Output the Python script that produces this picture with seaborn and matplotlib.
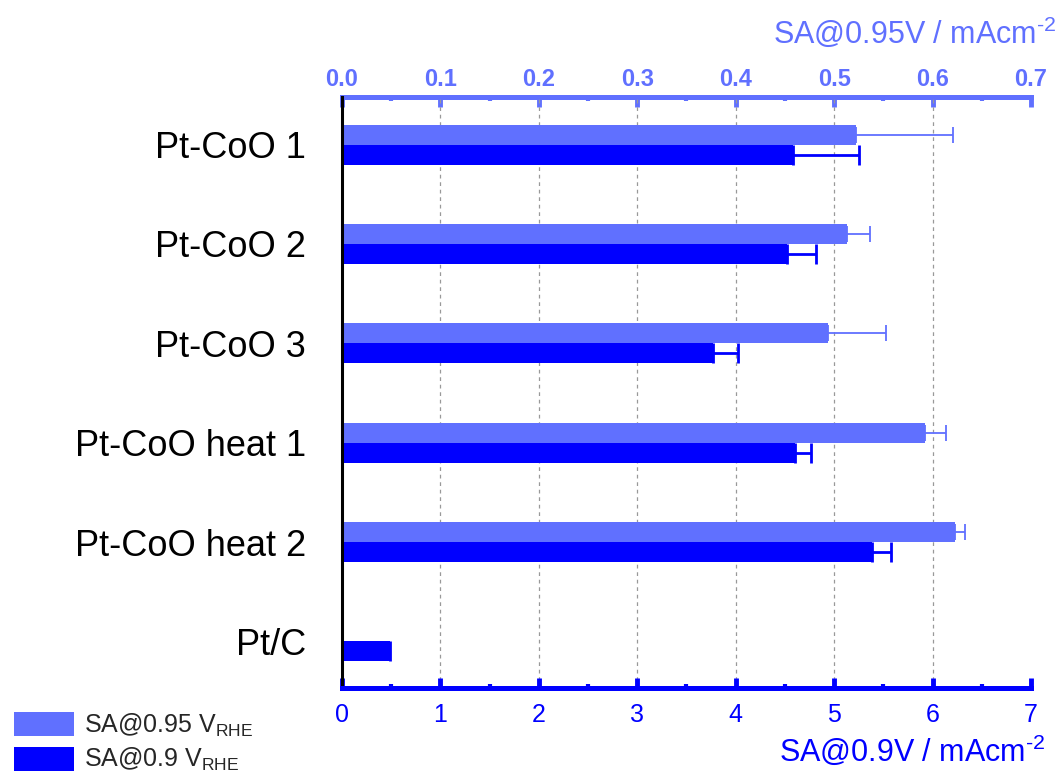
import numpy as np
import pandas as pd
import matplotlib
matplotlib.use("Agg")
import matplotlib.pyplot as plt
import seaborn as sns
from matplotlib.patches import Patch
from matplotlib.ticker import MultipleLocator, FormatStrFormatter

# data
samples = ["Pt-CoO 1", "Pt-CoO 2", "Pt-CoO 3", "Pt-CoO heat 1", "Pt-CoO heat 2", "Pt/C"]
sa_095 = [0.522, 0.513, 0.494, 0.592, 0.623, np.nan]   # mA cm-2, top axis
sa_095_err = [0.099, 0.023, 0.059, 0.022, 0.010, np.nan]
sa_09 = [4.58, 4.52, 3.77, 4.60, 5.38, 0.49]           # mA cm-2, bottom axis
sa_09_err = [0.67, 0.30, 0.25, 0.17, 0.20, np.nan]

light = "#6070ff"
dark = "#0000ff"
scale = 10  # top axis = bottom axis / 10

sns.set_theme(style="white")
plt.rcParams["font.family"] = ["Liberation Sans", "DejaVu Sans"]
plt.rcParams["mathtext.fontset"] = "custom"
plt.rcParams["mathtext.rm"] = "Liberation Sans"
plt.rcParams["mathtext.it"] = "Liberation Sans:italic"
plt.rcParams["mathtext.bf"] = "Liberation Sans:bold"

# long table for seaborn, light series expressed on the bottom scale
df = pd.DataFrame({
    "sample": samples * 2,
    "value": list(np.array(sa_095) * scale) + sa_09,
    "series": ["0.95"] * len(samples) + ["0.9"] * len(samples),
})

fig = plt.figure(figsize=(10.6, 7.77), dpi=100)
ax = fig.add_axes([0.3226, 0.1145, 0.65, 0.7607])

sns.barplot(data=df, y="sample", x="value", hue="series", hue_order=["0.95", "0.9"],
            palette=[light, dark], width=0.4, dodge=True, orient="h",
            errorbar=None, saturation=1, legend=False, linewidth=0, ax=ax)

pos = np.arange(len(samples))
ax.errorbar(np.array(sa_095) * scale, pos - 0.1,
            xerr=[np.zeros(len(samples)), np.array(sa_095_err) * scale],
            fmt="none", ecolor=light, elinewidth=1.3, capsize=6, capthick=1.3)
ax.errorbar(sa_09, pos + 0.1, xerr=[np.zeros(len(samples)), sa_09_err],
            fmt="none", ecolor=dark, elinewidth=2, capsize=7, capthick=2)

ax.set_xlim(0, 7)
ax.set_ylim(5.47, -0.48)
ax.set_xlabel("")
ax.set_ylabel("")

# grid
ax.xaxis.set_major_locator(MultipleLocator(1))
ax.xaxis.set_minor_locator(MultipleLocator(0.5))
ax.grid(True, axis="x", which="major", color="#999999", linestyle=(0, (3, 3)), linewidth=0.9)
ax.set_axisbelow(True)

# spines
ax.spines["right"].set_visible(False)
ax.spines["top"].set_visible(False)
ax.spines["left"].set_color("black")
ax.spines["left"].set_linewidth(2.2)
ax.spines["bottom"].set_color(dark)
ax.spines["bottom"].set_linewidth(3.6)

ax.tick_params(axis="y", length=0, pad=26, labelsize=26, labelcolor="black")
ax.tick_params(axis="x", which="major", direction="in", length=7, width=3.5,
               color=dark, labelcolor=dark, labelsize=18, pad=11, bottom=True)
ax.tick_params(axis="x", which="minor", direction="in", length=3, width=3,
               color=dark, bottom=True)

# top axis for 0.95 V
top = ax.secondary_xaxis("top", functions=(lambda x: x / scale, lambda x: x * scale))
top.xaxis.set_major_locator(MultipleLocator(0.1))
top.xaxis.set_minor_locator(MultipleLocator(0.05))
top.xaxis.set_major_formatter(FormatStrFormatter("%.1f"))
top.spines["top"].set_color(light)
top.spines["top"].set_linewidth(3.6)
top.tick_params(axis="x", which="major", direction="in", length=7, width=3.5,
                color=light, labelcolor=light, labelsize=17, pad=4)
top.tick_params(axis="x", which="minor", direction="in", length=3, width=3, color=light)
for t in top.get_xticklabels():
    t.set_fontweight("bold")

fig.text(0.997, 0.958, "SA@0.95V / mAcm$^{\\text{-2}}$", color=light, fontsize=22,
         ha="right", va="center")
fig.text(0.986, 0.034, "SA@0.9V / mAcm$^{\\text{-2}}$", color=dark, fontsize=22,
         ha="right", va="center")

handles = [Patch(facecolor=light, edgecolor="none"), Patch(facecolor=dark, edgecolor="none")]
fig.legend(handles, ["SA@0.95 V$_{\\text{RHE}}$", "SA@0.9 V$_{\\text{RHE}}$"],
           loc="lower left", bbox_to_anchor=(0.004, -0.008), frameon=False, fontsize=18,
           handlelength=2.4, handleheight=1.1, handletextpad=0.4, labelspacing=0.3,
           borderaxespad=0)

# hide the grid lines sitting on the axis ends
fig.canvas.draw()
for tick in ax.xaxis.get_major_ticks():
    if np.isclose(tick.get_loc(), 0) or np.isclose(tick.get_loc(), 7):
        tick.gridline.set_visible(False)

fig.savefig("out.png", dpi=100)
